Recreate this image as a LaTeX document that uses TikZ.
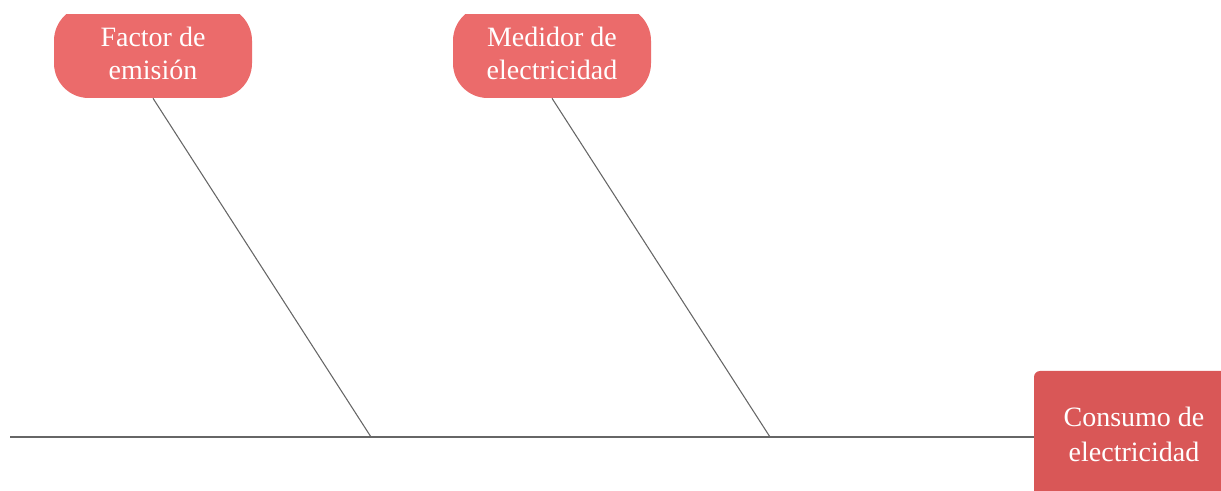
\documentclass[tikz,border=0pt]{standalone}
\usepackage{fontspec}
\setmainfont{Liberation Serif}
\definecolor{causaRojo}{HTML}{EB6B6B}
\definecolor{efectoRojo}{HTML}{D95757}
\definecolor{espinaGris}{HTML}{666666}
\begin{document}
\begin{tikzpicture}[x=0.75pt, y=-0.75pt,
  causa/.style={fill=causaRojo, text=white, rounded corners=26pt, minimum width=148.5pt, minimum height=69pt, inner sep=0pt, align=center, font=\fontsize{21}{24.75}\selectfont},
  efecto/.style={fill=efectoRojo, text=white, rounded corners=4.5pt, minimum width=150pt, minimum height=94.5pt, inner sep=0pt, align=center, font=\fontsize{21}{26.25}\selectfont},
  espina/.style={draw=espinaGris, line width=0.8pt}
]
\useasboundingbox (0,0) rectangle (1221,491);
\clip (0,15) rectangle (1221,491);

\node[causa] (factor) at (153,52) {\rule{0pt}{16pt}Factor de\\emisión};
\node[causa] (medidor) at (552,52) {\rule{0pt}{16pt}Medidor de\\electricidad};
\node[efecto] (consumo) at (1134,434) {Consumo de\\electricidad};

\coordinate (cola) at (10,437);
\coordinate (f1) at (371,437);
\coordinate (f2) at (770,437);

% espina central y causas
\draw[espina] (cola) -- (cola -| consumo.west);
\draw[espina] (factor.south) -- (f1);
\draw[espina] (medidor.south) -- (f2);
\end{tikzpicture}
\end{document}
